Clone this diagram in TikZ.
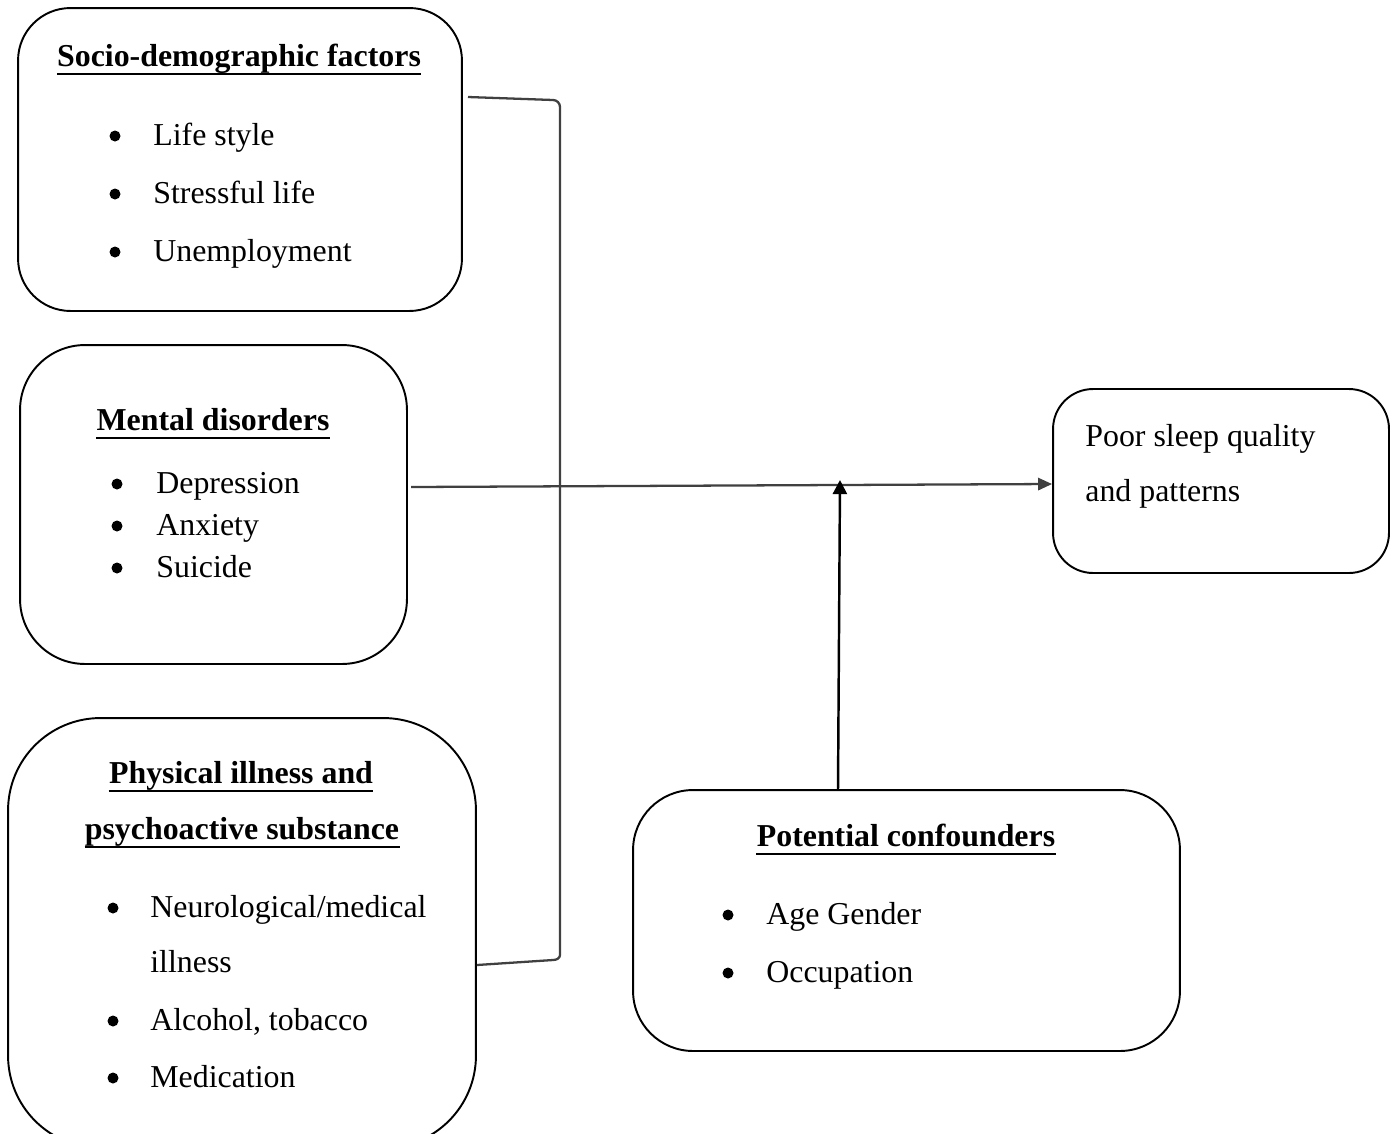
\documentclass[tikz,border=0pt]{standalone}
\usepackage{fontspec}
\setmainfont{Liberation Serif}
\usetikzlibrary{positioning, calc, arrows.meta}
\definecolor{linea}{HTML}{404040}
\newcommand{\dimtesto}{\fontsize{18.14}{22}\selectfont}

\begin{document}
\begin{tikzpicture}[x=0.02cm, y=-0.02cm, font=\dimtesto,
    box/.style={draw, line width=1.1pt, rounded corners=#1, inner sep=0pt},
    titolo/.style={font=\dimtesto\bfseries, inner sep=0pt, anchor=base, text depth=3.5pt,
        append after command={([yshift=-0.8pt]\tikzlastnode.south west) edge[line width=1.6pt] ([yshift=-0.8pt]\tikzlastnode.south east)}},
    voce/.style={inner sep=0pt, anchor=base west},
    punto/.style={circle, fill, inner sep=0pt, minimum size=0.22cm},
    link/.style={draw=linea, line width=1.3pt}]
        \useasboundingbox (0,0) rectangle (1392,1133);
        % riquadro fattori socio-demografici
        \node[box=1.05cm, minimum width=8.88cm, minimum height=6.06cm] (socio) at (240,159.5) {};
        \node[titolo] (sociotit) at (239,66) {Socio-demographic factors};
        \foreach \t/\y [count=\i] in {Life style/145, Stressful life/203, Unemployment/261} {
            \node[punto] (sociob\i) at (115,\y-9) {};
            \node[voce] (sociov\i) at (153,\y) {\t};
        }
        % riquadro disturbi mentali
        \node[box=1.3cm, minimum width=7.74cm, minimum height=6.38cm] (mental) at (213.5,504.5) {};
        \node[titolo] (mentaltit) at (213,430) {Mental disorders};
        \foreach \t/\y [count=\i] in {Depression/493, Anxiety/535, Suicide/577} {
            \node[punto] (mentalb\i) at (117,\y-9) {};
            \node[voce] (mentalv\i) at (156,\y) {\t};
        }
        % riquadro malattie fisiche e sostanze
        \node[box=1.85cm, minimum width=9.36cm, minimum height=8.6cm] (phys) at (242,933) {};
        \node[titolo] (phystit1) at (241,783) {Physical illness and};
        \node[titolo] (phystit2) at (242,839) {psychoactive substance};
        \foreach \t/\y [count=\i] in {{Neurological/medical}/917, {Alcohol, tobacco}/1030, Medication/1087} {
            \node[punto] (physb\i) at (113,\y-9) {};
            \node[voce] (physv\i) at (150,\y) {\t};
        }
        \node[voce] (physv4) at (150,972) {illness};
        % riquadro qualita del sonno
        \node[box=0.8cm, minimum width=6.72cm, minimum height=3.68cm] (sleep) at (1221,481) {};
        \node[voce] (sleep1) at (1085,446) {Poor sleep quality};
        \node[voce] (sleep2) at (1085,501) {and patterns};
        % riquadro confondenti
        \node[box=1.2cm, minimum width=10.94cm, minimum height=5.22cm] (conf) at (906.5,920.5) {};
        \node[titolo] (conftit) at (906,846) {Potential confounders};
        \foreach \t/\y [count=\i] in {Age Gender/924, Occupation/982} {
            \node[punto] (confb\i) at (728,\y-9) {};
            \node[voce] (confv\i) at (766,\y) {\t};
        }
        % parentesi a destra dei fattori
        \coordinate (brtop) at (468,97);
        \coordinate (brbot) at (phys.east |- 0,965);
        \draw[link] (brtop) -- (553,100) to[out=0,in=90] (560,107) -- (560,955) to[out=-90,in=0] (553,960) -- (brbot);
        % freccia principale
        \coordinate (mfrom) at (411,487);
        \draw[link, -{Triangle[length=8pt,width=7pt]}] (mfrom) -- (sleep.west |- 0,484);
        % freccia dei confondenti
        \coordinate (mod) at (840,480);
        \draw[line width=1.4pt, -{Triangle[length=8pt,width=8pt]}] (conf.north -| 838,0) -- (mod);
    \end{tikzpicture}
\end{document}
